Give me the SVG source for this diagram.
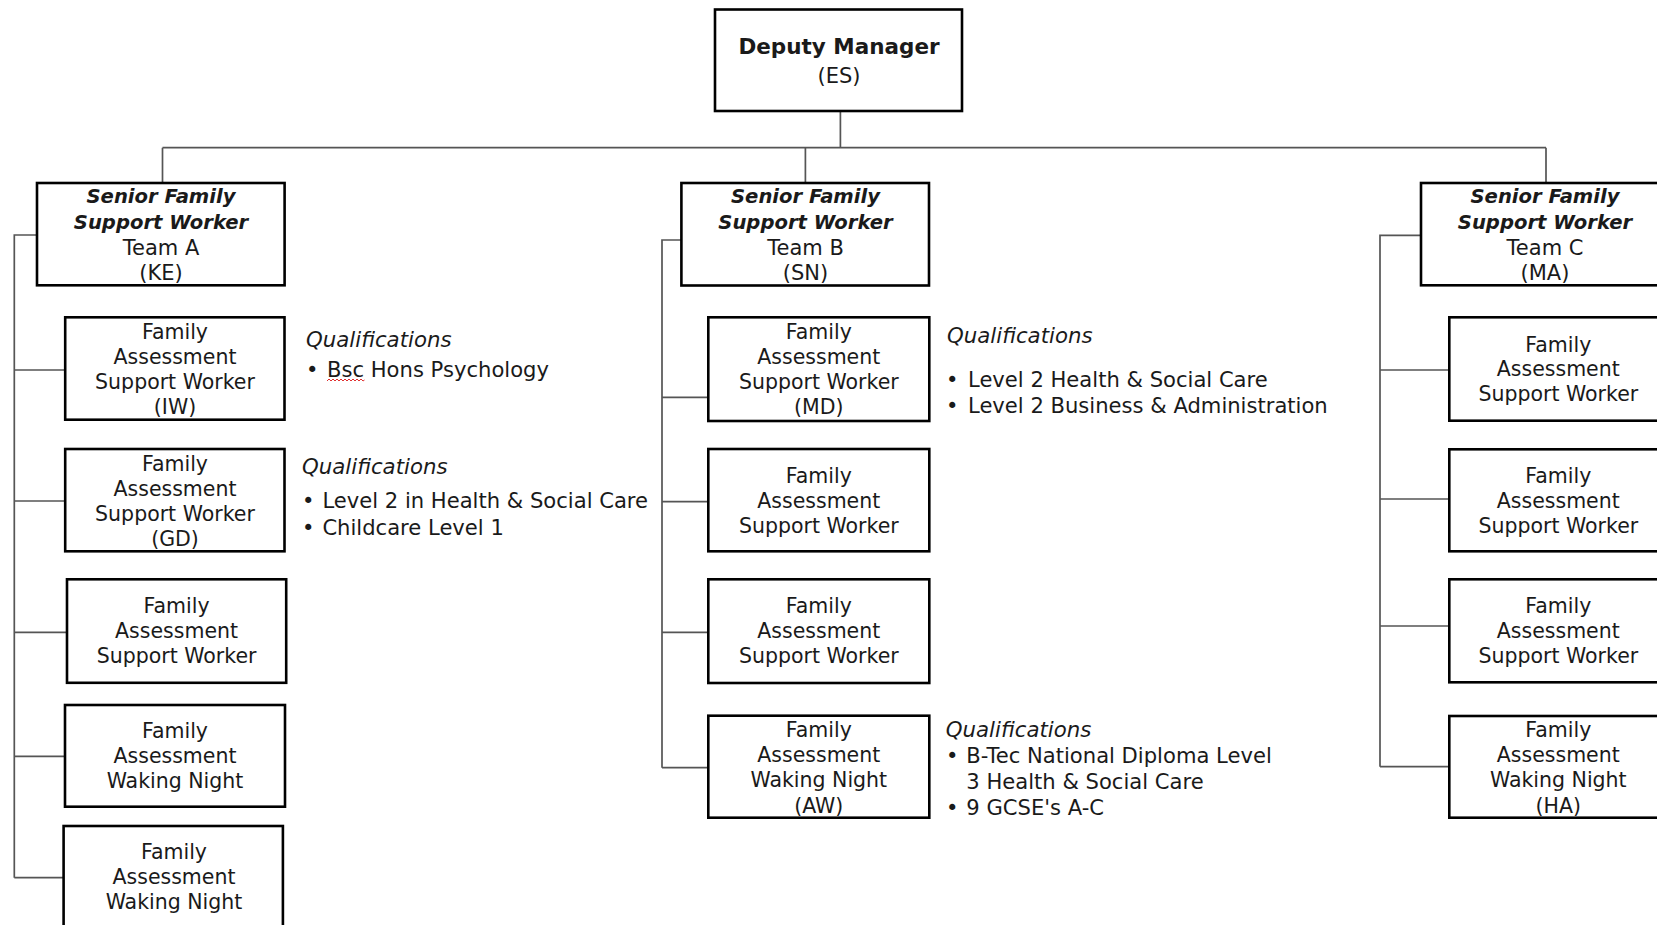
<svg xmlns="http://www.w3.org/2000/svg" width="1657" height="925" viewBox="0 0 1657 925">
  <style>
    .box { fill: #ffffff; stroke: #000000; stroke-width: 2.6; }
    .link { fill: none; stroke: #555555; stroke-width: 1.7; }
    text { font-family: "DejaVu Sans", "Open Sans", sans-serif; fill: #1a1a1a; }
    .lbl { font-size: 20.5px; text-anchor: middle; }
    .head { font-size: 21.5px; font-weight: bold; text-anchor: middle; }
    .senior { font-size: 19.6px; font-weight: bold; font-style: italic; text-anchor: middle; }
    .sub { font-size: 21px; text-anchor: middle; }
    .qt { font-size: 21.3px; font-style: italic; }
    .qi { font-size: 21.1px; }
    .squiggle { fill: none; stroke: #e03030; stroke-width: 1; }
  </style>

  <rect width="1657" height="925" fill="#ffffff"/>

  <!-- connectors -->
  <g id="connectors">
    <!-- manager to team leads -->
    <path class="link" d="M840.4 111 V147.7 M162.5 147.7 H1546 M162.5 147.7 V183 M805.4 147.7 V183 M1546 147.7 V183"/>
    <!-- team A trunk -->
    <path class="link" d="M37 235 H14.3 V877.7 M14.3 370 H65.2 M14.3 501 H65.2 M14.3 632.3 H67 M14.3 756.3 H65 M14.3 877.7 H63.6"/>
    <!-- team B trunk -->
    <path class="link" d="M681.4 240 H662 V767.7 M662 397.3 H708.3 M662 501.7 H708.3 M662 632.3 H708.3 M662 767.7 H708.3"/>
    <!-- team C trunk -->
    <path class="link" d="M1421 235.3 H1380 V766.7 M1380 370 H1449.3 M1380 499 H1449.3 M1380 626 H1449.3 M1380 766.7 H1449.3"/>
  </g>

  <!-- deputy manager -->
  <g id="deputy-manager">
    <rect class="box" x="715" y="9.5" width="247" height="101.5"/>
    <text class="head" x="839" y="54.3">Deputy Manager</text>
    <text class="sub" x="839" y="83.3">(ES)</text>
  </g>

  <!-- senior family support workers -->
  <g id="senior-team-a">
    <rect class="box" x="37" y="183" width="247.6" height="102.3"/>
    <text class="senior" x="161" y="203">Senior Family</text>
    <text class="senior" x="161" y="229.3">Support Worker</text>
    <text class="sub" x="161" y="255">Team A</text>
    <text class="sub" x="161" y="280">(KE)</text>
  </g>
  <g id="senior-team-b">
    <rect class="box" x="681.4" y="183" width="247.6" height="102.5"/>
    <text class="senior" x="805.5" y="203">Senior Family</text>
    <text class="senior" x="805.5" y="229.3">Support Worker</text>
    <text class="sub" x="805.5" y="255">Team B</text>
    <text class="sub" x="805.5" y="280">(SN)</text>
  </g>
  <g id="senior-team-c">
    <rect class="box" x="1421" y="183" width="249" height="102.3"/>
    <text class="senior" x="1545" y="203">Senior Family</text>
    <text class="senior" x="1545" y="229.3">Support Worker</text>
    <text class="sub" x="1545" y="255">Team C</text>
    <text class="sub" x="1545" y="280">(MA)</text>
  </g>

  <!-- team A workers -->
  <g id="team-a-iw">
    <rect class="box" x="65.2" y="317.3" width="219.3" height="102.4"/>
    <text class="lbl" x="175" y="339.3">Family</text>
    <text class="lbl" x="175" y="364.3">Assessment</text>
    <text class="lbl" x="175" y="389.3">Support Worker</text>
    <text class="lbl" x="175" y="414">(IW)</text>
  </g>
  <g id="team-a-gd">
    <rect class="box" x="65.2" y="449" width="219.3" height="102.3"/>
    <text class="lbl" x="175" y="471">Family</text>
    <text class="lbl" x="175" y="496">Assessment</text>
    <text class="lbl" x="175" y="521">Support Worker</text>
    <text class="lbl" x="175" y="546">(GD)</text>
  </g>
  <g id="team-a-support-3">
    <rect class="box" x="67" y="579.3" width="219.2" height="103.5"/>
    <text class="lbl" x="176.6" y="613.3">Family</text>
    <text class="lbl" x="176.6" y="638.3">Assessment</text>
    <text class="lbl" x="176.6" y="663.3">Support Worker</text>
  </g>
  <g id="team-a-night-1">
    <rect class="box" x="65" y="705" width="220" height="101.7"/>
    <text class="lbl" x="175" y="738.3">Family</text>
    <text class="lbl" x="175" y="763.3">Assessment</text>
    <text class="lbl" x="175" y="788.3">Waking Night</text>
  </g>
  <g id="team-a-night-2">
    <rect class="box" x="63.6" y="826" width="219.3" height="120"/>
    <text class="lbl" x="174" y="859.3">Family</text>
    <text class="lbl" x="174" y="884.3">Assessment</text>
    <text class="lbl" x="174" y="909.3">Waking Night</text>
  </g>

  <!-- team B workers -->
  <g id="team-b-md">
    <rect class="box" x="708.3" y="317.3" width="221" height="103.7"/>
    <text class="lbl" x="818.8" y="339.3">Family</text>
    <text class="lbl" x="818.8" y="364.3">Assessment</text>
    <text class="lbl" x="818.8" y="389.3">Support Worker</text>
    <text class="lbl" x="818.8" y="414">(MD)</text>
  </g>
  <g id="team-b-support-2">
    <rect class="box" x="708.3" y="449" width="221" height="102.3"/>
    <text class="lbl" x="818.8" y="483.3">Family</text>
    <text class="lbl" x="818.8" y="508.3">Assessment</text>
    <text class="lbl" x="818.8" y="533.3">Support Worker</text>
  </g>
  <g id="team-b-support-3">
    <rect class="box" x="708.3" y="579.3" width="221" height="103.7"/>
    <text class="lbl" x="818.8" y="613.3">Family</text>
    <text class="lbl" x="818.8" y="638.3">Assessment</text>
    <text class="lbl" x="818.8" y="663.3">Support Worker</text>
  </g>
  <g id="team-b-aw">
    <rect class="box" x="708.3" y="715.7" width="221" height="102"/>
    <text class="lbl" x="818.8" y="736.7">Family</text>
    <text class="lbl" x="818.8" y="761.7">Assessment</text>
    <text class="lbl" x="818.8" y="786.7">Waking Night</text>
    <text class="lbl" x="818.8" y="812.7">(AW)</text>
  </g>

  <!-- team C workers -->
  <g id="team-c-support-1">
    <rect class="box" x="1449.3" y="317.3" width="218" height="103.4"/>
    <text class="lbl" x="1558.3" y="351.7">Family</text>
    <text class="lbl" x="1558.3" y="376.2">Assessment</text>
    <text class="lbl" x="1558.3" y="400.7">Support Worker</text>
  </g>
  <g id="team-c-support-2">
    <rect class="box" x="1449.3" y="449.3" width="218" height="102"/>
    <text class="lbl" x="1558.3" y="483.3">Family</text>
    <text class="lbl" x="1558.3" y="508">Assessment</text>
    <text class="lbl" x="1558.3" y="533">Support Worker</text>
  </g>
  <g id="team-c-support-3">
    <rect class="box" x="1449.3" y="579.3" width="218" height="103"/>
    <text class="lbl" x="1558.3" y="613.3">Family</text>
    <text class="lbl" x="1558.3" y="638.3">Assessment</text>
    <text class="lbl" x="1558.3" y="663.3">Support Worker</text>
  </g>
  <g id="team-c-ha">
    <rect class="box" x="1449.3" y="716" width="218" height="101.7"/>
    <text class="lbl" x="1558.3" y="737.3">Family</text>
    <text class="lbl" x="1558.3" y="762">Assessment</text>
    <text class="lbl" x="1558.3" y="787">Waking Night</text>
    <text class="lbl" x="1558.3" y="812.7">(HA)</text>
  </g>

  <!-- qualification notes -->
  <g id="qualifications-iw">
    <text class="qt" x="306" y="346.7">Qualifications</text>
    <text class="qi" x="306" y="376.7">•</text>
    <text class="qi" x="327" y="376.7">Bsc Hons Psychology</text>
    <polyline class="squiggle" points="327,381 329,379 331,381 333,379 335,381 337,379 339,381 341,379 343,381 345,379 347,381 349,379 351,381 353,379 355,381 357,379 359,381 361,379 363,381 364.5,380"/>
  </g>
  <g id="qualifications-gd">
    <text class="qt" x="302" y="474">Qualifications</text>
    <text class="qi" x="302" y="508.3">•</text>
    <text class="qi" x="322.4" y="508.3">Level 2 in Health &amp; Social Care</text>
    <text class="qi" x="302" y="535">•</text>
    <text class="qi" x="322.4" y="535">Childcare Level 1</text>
  </g>
  <g id="qualifications-md">
    <text class="qt" x="947" y="343.3">Qualifications</text>
    <text class="qi" x="946" y="386.7">•</text>
    <text class="qi" x="968" y="386.7">Level 2 Health &amp; Social Care</text>
    <text class="qi" x="946" y="412.7">•</text>
    <text class="qi" x="968" y="412.7">Level 2 Business &amp; Administration</text>
  </g>
  <g id="qualifications-aw">
    <text class="qt" x="945.8" y="736.7">Qualifications</text>
    <text class="qi" x="946" y="763.3">•</text>
    <text class="qi" x="966.3" y="763.3">B-Tec National Diploma Level</text>
    <text class="qi" x="966.3" y="789.3">3 Health &amp; Social Care</text>
    <text class="qi" x="946" y="815.3">•</text>
    <text class="qi" x="966.3" y="815.3">9 GCSE's A-C</text>
  </g>
</svg>
